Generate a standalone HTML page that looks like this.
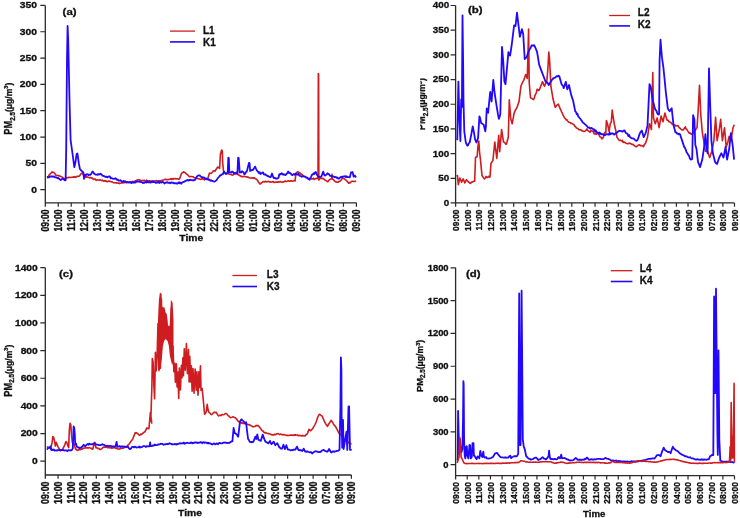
<!DOCTYPE html>
<html><head><meta charset="utf-8"><style>
html,body{margin:0;padding:0;background:#fff;width:740px;height:518px;overflow:hidden}
svg{display:block;filter:blur(0.35px)}
text{font-family:"Liberation Sans", sans-serif;font-weight:bold;fill:#111;stroke:#111;stroke-width:0.3px}
.t{font-size:8.8px}
.tt{font-size:9px}
.lab{font-size:9.5px}
.leg{font-size:10px}
.yt{font-size:8.6px}
</style></head><body>
<svg width="740" height="518" viewBox="0 0 740 518">
<defs><clipPath id="clipb" clipPathUnits="userSpaceOnUse"><rect x="420.2" y="0" width="20" height="250"/></clipPath></defs>
<rect width="740" height="518" fill="#fff"/>
<polyline points="46.9,177.6 47.5,177.6 48.27,177.17 49.03,175.13 49.8,174.2 50.57,173.55 51.33,172.71 52.1,171.9 52.87,172.52 53.63,172.21 54.4,173 55.3,174.23 56.2,175.7 56.93,175.52 57.65,175.48 58.38,175.6 59.1,175.9 59.87,176.05 60.63,176.41 61.4,176.8 62.17,176.99 62.93,177.86 63.7,178.2 64.55,178.64 65.4,179.4 66.3,177.54 67.2,177.6 67.97,177.91 68.73,177.38 69.5,177.23 70.27,177.48 71.03,177.42 71.8,177.3 72.57,177.23 73.33,176.88 74.1,177.11 74.87,176.51 75.63,177.32 76.4,176.8 77.12,176.25 77.85,176.39 78.58,176.28 79.3,176.1 80.2,174.92 81.1,173.6 82.2,173 83.4,174.8 84.25,175.88 85.1,177.1 85.84,177.32 86.59,176.15 87.33,177.24 88.07,177.3 88.81,177.29 89.56,177.95 90.3,177.6 91,177.63 91.7,178.26 92.4,178.03 93.1,179.08 93.8,179.4 94.57,178.97 95.33,179.09 96.1,180.37 96.87,179.97 97.63,179.86 98.4,180 99.2,180.17 100,179.84 100.8,180.11 101.6,180.72 102.4,180.1 103.2,180.99 104,181.1 104.71,180.58 105.42,181.2 106.14,180.87 106.85,181.79 107.56,181.62 108.28,181.2 108.99,180.84 109.7,181.5 110.52,181.44 111.33,181.88 112.15,181.81 112.97,182.41 113.78,182.84 114.6,182.8 115.31,182.79 116.02,182.73 116.74,183.15 117.45,182.87 118.16,183.27 118.88,182.96 119.59,183.6 120.3,183.2 121.1,183 121.9,182.68 122.7,182.95 123.5,182.65 124.3,182.8 125.12,182.39 125.93,182.56 126.75,182.74 127.57,181.77 128.38,182.33 129.2,182.3 130,182.1 130.8,181.98 131.6,182.16 132.4,181.4 133.2,181.88 134,181.6 134.82,181.13 135.64,180.88 136.46,180.42 137.28,180.02 138.1,179.8 138.9,179.74 139.7,180.16 140.5,180.2 141.25,180.85 141.99,180.58 142.74,180.56 143.48,180.52 144.23,180.25 144.97,180.62 145.72,181.12 146.46,180.14 147.21,180.83 147.95,180.93 148.7,180.7 149.41,180.76 150.11,180.92 150.82,181.11 151.52,181.37 152.23,181.1 152.94,181.22 153.64,180.82 154.35,180.98 155.06,180.79 155.76,180.83 156.47,180.61 157.18,180.96 157.88,181.2 158.59,180.72 159.29,180.85 160,180.8 160.82,180.77 161.64,180.39 162.46,180.47 163.28,180.06 164.1,179.8 164.9,179.34 165.7,179.3 166.5,179.75 167.3,179.63 168.1,179.69 168.9,179.35 169.7,179.2 170.4,179.19 171.1,178.6 171.8,179.44 172.5,178.68 173.2,179.22 173.9,178.5 174.6,178.8 175.3,178.62 176,178.89 176.7,178.75 177.4,178.69 178.1,179.2 178.8,179.17 179.5,179 181.5,173.5 182.5,172.71 183.5,171.7 184.33,172.19 185.17,172.64 186,173.5 186.8,174.07 187.6,174.78 188.4,175.66 189.2,176.4 190,176.72 190.8,176.54 191.6,176.45 192.4,176.8 193.22,176.91 194.05,177.78 194.88,177.74 195.7,178 196.5,178.27 197.3,178.48 198.1,178.77 198.9,178.84 199.7,179 200.52,179.39 201.34,179.32 202.16,178.26 202.98,179.12 203.8,179.2 204.6,179.93 205.4,178.49 206.2,178.76 207,178.88 207.8,178.4 209.5,173.1 210.3,173.3 211.1,173.5 212.1,172.7 213.1,171.1 214.1,170.77 215.1,171.2 215.97,169.42 216.83,168.34 217.7,167 218.65,167.53 219.6,168.5 220.4,154.3 221.6,150 222.3,150.8 222.7,163.1 223.5,170.9 224.25,171.73 225,173.2 225.78,173.53 226.56,173.6 227.34,173.68 228.12,173.72 228.9,174 229.66,174.3 230.42,174.4 231.18,174.44 231.94,175.03 232.7,175.1 233.48,174.67 234.26,174.04 235.04,173.69 235.82,172.61 236.6,172.4 237.35,173.51 238.1,174.7 238.88,174.86 239.66,175.74 240.44,175.81 241.22,176.62 242,176.3 242.78,176.85 243.56,176.35 244.34,176.21 245.12,176.77 245.9,176.7 246.66,176.84 247.42,177.09 248.18,177.04 248.94,177.76 249.7,177.8 250.48,177.94 251.26,178.08 252.04,178.13 252.82,177.85 253.6,178.2 254.38,177.83 255.15,178.72 255.92,178.91 256.7,179.4 257.52,180.39 258.35,181.99 259.18,182.82 260,184 260.77,183.85 261.55,182.85 262.33,182.41 263.1,181.6 263.87,181.75 264.63,181.84 265.4,181.22 266.17,181.93 266.93,181.63 267.7,181.6 268.47,181.35 269.24,181.86 270.01,181.82 270.78,182.15 271.55,182.02 272.32,181.95 273.09,181.39 273.86,182.42 274.63,182.41 275.4,182 276.1,182.21 276.8,182.1 277.5,182.31 278.2,181.67 278.9,182.12 279.6,181.9 280.3,181.57 281,181.96 281.7,181.94 282.4,182.33 283.1,181.8 283.88,182.01 284.65,181.17 285.43,180.99 286.2,181.48 286.98,181.36 287.75,181.07 288.53,180.84 289.3,181.2 290.03,181.1 290.75,180.78 291.48,180.88 292.2,181.31 292.93,181.08 293.65,180.75 294.38,180.6 295.1,180.9 295.9,173.1 296.85,172.29 297.8,171.6 298.57,172.62 299.33,172.45 300.1,173.1 300.88,174.22 301.65,174.06 302.43,174.84 303.2,175.5 303.98,176.28 304.75,176.42 305.52,177.24 306.3,177.8 307.12,177.69 307.95,178.6 308.78,179.05 309.6,179 310.38,178.8 311.15,179.06 311.93,178.88 312.7,179 313.48,178.19 314.26,179.5 315.04,178.71 315.82,178.61 316.6,178.2 318,178.5 318.35,73.5 318.6,74 318.85,180.1 319.68,179.07 320.5,177.8 321.27,177.99 322.03,178.78 322.8,178.2 323.55,178.4 324.3,179.7 325,180.01 325.7,180.37 326.4,180.84 327.1,181.51 327.8,181.7 328.75,180.48 329.7,179.7 330.7,178.95 331.7,179 332,174.3 332.4,179 333.4,179.61 334.4,180.9 335.17,181.44 335.93,181.99 336.7,182.1 337.48,182.14 338.25,182.18 339.02,181.34 339.8,181.3 340.57,180.7 341.33,179.71 342.1,178.6 342.87,178.55 343.63,178.37 344.4,178.6 345.15,179.61 345.9,180.1 346.8,180.93 347.7,182.08 348.6,183.2 349.3,182.53 350,182.96 350.7,182.04 351.4,181.53 352.1,181.3 352.88,181.31 353.66,181.39 354.44,181.57 355.22,181.11 356,181.7" fill="none" stroke="#cf1c20" stroke-width="1.6" stroke-linejoin="round"/>
<polyline points="46.9,176.8 47.5,176.8 48.23,177.38 48.95,177.45 49.67,176.83 50.4,176.46 51.12,176.31 51.85,176.81 52.57,176.34 53.3,176.8 54.15,176.35 55,177.29 55.85,177.46 56.7,177.6 57.5,178.25 58.3,177.99 59.1,178.8 59.95,179.4 60.8,180 61.65,179.37 62.5,178.8 63.4,178.72 64.3,180 65.6,180.3 66.2,150 67,60 67.6,26 68.2,40 69.5,100 70.6,140 72.7,155 74.3,167.2 75.5,162 76.6,154 77.4,153.5 78.8,163.2 79.9,169 80.67,170.01 81.43,170.68 82.2,171.3 83.4,172.4 84,178.8 84.5,174.8 85.3,175.68 86.1,174.49 86.9,174.2 87.75,174.28 88.6,175.05 89.45,174.74 90.3,174.8 91.1,174.11 91.9,172.44 92.7,171.5 93.47,172.5 94.23,173.76 95,174.2 95.77,174.71 96.53,174.66 97.3,174.8 98,174.11 98.7,174.6 99.4,174.23 100.1,174.32 100.8,173.8 101.6,174.56 102.4,175.62 103.2,175.8 104.02,176.1 104.84,176.53 105.66,177.06 106.48,176.59 107.3,177.4 108.3,176.72 109.3,176.4 110.03,176.67 110.75,178.29 111.47,177.86 112.2,178.4 113,178.81 113.8,178.92 114.6,178.63 115.4,178.18 116.2,179 117.03,179.86 117.85,179.67 118.67,180.6 119.5,180.7 120.3,180.26 121.1,180.8 121.9,181.72 122.7,181.94 123.5,180.86 124.3,181.6 125.12,181.14 125.94,181.86 126.76,182.35 127.58,182.23 128.4,182.3 129.2,182.51 130,182 130.8,182.78 131.6,183.09 132.4,182.46 133.2,182.08 134,182.8 134.82,182.16 135.65,182.54 136.48,181.12 137.3,181.6 138.12,181.68 138.93,181.39 139.75,181.89 140.57,181.96 141.38,182.19 142.2,182.3 142.92,182.98 143.64,182.49 144.37,182.9 145.09,182.24 145.81,182.08 146.53,182.47 147.26,181.02 147.98,182.28 148.7,182.3 149.41,182.38 150.11,181.76 150.82,182.53 151.52,182.07 152.23,181.22 152.94,182.24 153.64,181.9 154.35,182.12 155.06,182.29 155.76,182.93 156.47,182.42 157.18,182.36 157.88,182.56 158.59,181.57 159.29,182.95 160,182.4 160.74,181.95 161.47,182.67 162.21,182 162.95,182.11 163.68,182.4 164.42,183.47 165.15,182.97 165.89,182.42 166.63,182.6 167.36,182.25 168.1,182.8 168.84,182.82 169.57,182.61 170.31,183.23 171.05,182.33 171.78,182.83 172.52,182.64 173.25,182.73 173.99,183.41 174.73,183.18 175.46,183.43 176.2,183.2 176.91,183.69 177.62,183.62 178.34,182.43 179.05,183.24 179.76,182.16 180.47,182.87 181.19,183.71 181.9,182.8 182.72,182.29 183.54,181.79 184.36,181.62 185.18,181.13 186,180.7 186.8,180.49 187.6,179.91 188.4,180.51 189.2,179.8 189.91,180.23 190.62,179.75 191.34,180.02 192.05,180.2 192.76,180.39 193.47,180.13 194.19,180.29 194.9,180 195.83,178.48 196.77,176.72 197.7,175.8 198.7,175.33 199.7,175.3 200.53,176.39 201.37,177.01 202.2,177.2 203,177.51 203.8,177.42 204.6,178.06 205.4,178.91 206.2,178.4 207.02,179.47 207.84,179.01 208.66,179.76 209.48,179.59 210.3,180.7 211.1,180.27 211.9,180.95 212.7,180.96 213.5,181.47 214.3,181.69 215.1,181.2 215.93,180.64 216.77,179.93 217.6,178.4 218.9,177 219.65,176.08 220.4,175.14 221.15,175.2 221.9,174.3 222.9,174.16 223.9,171.6 224.85,172.96 225.8,174 226.75,173.08 227.7,173.2 228.3,157.7 228.8,158 229.3,172.4 230.2,172.24 231.1,172.51 232,171.6 232.77,171.67 233.53,173.03 234.3,173.2 235.08,172.92 235.85,173.77 236.62,173.55 237.4,173.2 238.1,157.7 238.7,158 239.7,172.4 240.47,172.17 241.23,172.57 242,171.3 242.78,171.79 243.55,172.34 244.32,174.16 245.1,174 245.87,172.04 246.63,171.86 247.4,169.3 249,162.8 249.6,163.2 250.1,170.9 251,170.62 251.9,169.9 252.8,170.1 253.57,168.93 254.33,167.83 255.1,166.6 256.1,168.84 257.1,170.9 257.95,171.59 258.8,172.94 259.65,172.18 260.5,174 261.37,173.22 262.23,172.82 263.1,172.4 263.85,174.37 264.6,174.7 265.38,174.18 266.15,175.3 266.93,175.31 267.7,176.2 268.48,176.1 269.25,176.89 270.02,176.98 270.8,177 272,173.5 273.2,177 273.93,178.15 274.67,177.73 275.4,178.5 276.17,178.45 276.95,178.68 277.73,178.38 278.5,177.8 279.3,174.3 280.07,173.95 280.85,174.41 281.62,173.28 282.4,173.5 283.17,174.71 283.95,174.37 284.73,174.65 285.5,175.1 286.4,174.02 287.3,173.08 288.2,171.5 289.04,173 289.88,172.88 290.72,173.49 291.56,174.64 292.4,175.1 293.18,174.47 293.96,173.86 294.74,174.76 295.52,173.97 296.3,173.9 297.06,174.79 297.82,174.2 298.58,173.74 299.34,175.55 300.1,175.8 300.92,176 301.73,176.79 302.55,176.44 303.37,176.47 304.18,176.73 305,176.6 305.77,176.95 306.53,177.67 307.3,177.54 308.07,178.9 308.83,178.82 309.6,179.7 310.4,177.83 311.2,176.68 312,174.7 312.76,174.57 313.52,173.17 314.28,173.98 315.04,172.27 315.8,172 316.6,174.13 317.4,175.5 318.17,176.43 318.93,176.6 319.7,177 320.6,176.68 321.5,176.2 323.2,171.6 324.3,175.1 325.08,175.67 325.86,175.02 326.64,174.58 327.42,173.32 328.2,173.9 328.98,174.16 329.75,175.62 330.52,175.79 331.3,176.3 332.07,175.99 332.83,176.24 333.6,176.51 334.37,177.08 335.13,177.06 335.9,177 336.67,177.85 337.45,177.43 338.23,178.64 339,178.6 339.77,177.74 340.53,177.2 341.3,176.7 342.07,177.42 342.84,176.62 343.61,176.47 344.39,176.38 345.16,176.24 345.93,177.06 346.7,176.3 347.48,177.19 348.25,177.17 349.02,177.21 349.8,177.4 351,172.4 351.75,172.67 352.5,172 353.7,176.7 354.8,175.5 356,177.4" fill="none" stroke="#2208ff" stroke-width="1.8" stroke-linejoin="round"/>
<path d="M45.3 5.43V206.63M45.3 202.83H356.4" stroke="#2a2a2a" stroke-width="1.3" fill="none"/>
<path d="M40.3 189.67H45.3M40.3 163.35H45.3M40.3 137.03H45.3M40.3 110.71H45.3M40.3 84.39H45.3M40.3 58.07H45.3M40.3 31.75H45.3M40.3 5.43H45.3M58.26 202.83v3.8M71.22 202.83v3.8M84.19 202.83v3.8M97.15 202.83v3.8M110.11 202.83v3.8M123.07 202.83v3.8M136.04 202.83v3.8M149 202.83v3.8M161.96 202.83v3.8M174.92 202.83v3.8M187.89 202.83v3.8M200.85 202.83v3.8M213.81 202.83v3.8M226.77 202.83v3.8M239.74 202.83v3.8M252.7 202.83v3.8M265.66 202.83v3.8M278.62 202.83v3.8M291.59 202.83v3.8M304.55 202.83v3.8M317.51 202.83v3.8M330.47 202.83v3.8M343.44 202.83v3.8M356.4 202.83v3.8" stroke="#2a2a2a" stroke-width="1.2" fill="none"/>
<text transform="translate(37,192.57) scale(1.17,1)" text-anchor="end" class="t">0</text>
<text transform="translate(37,166.25) scale(1.17,1)" text-anchor="end" class="t">50</text>
<text transform="translate(37,139.93) scale(1.17,1)" text-anchor="end" class="t">100</text>
<text transform="translate(37,113.61) scale(1.17,1)" text-anchor="end" class="t">150</text>
<text transform="translate(37,87.29) scale(1.17,1)" text-anchor="end" class="t">200</text>
<text transform="translate(37,60.97) scale(1.17,1)" text-anchor="end" class="t">250</text>
<text transform="translate(37,34.65) scale(1.17,1)" text-anchor="end" class="t">300</text>
<text transform="translate(37,8.33) scale(1.17,1)" text-anchor="end" class="t">350</text>
<text transform="translate(49.14,209.5) scale(1.240,1) rotate(-90)" text-anchor="end" class="t" style="font-size:8.6px">09:00</text>
<text transform="translate(62.1,209.5) scale(1.240,1) rotate(-90)" text-anchor="end" class="t" style="font-size:8.6px">10:00</text>
<text transform="translate(75.06,209.5) scale(1.240,1) rotate(-90)" text-anchor="end" class="t" style="font-size:8.6px">11:00</text>
<text transform="translate(88.03,209.5) scale(1.240,1) rotate(-90)" text-anchor="end" class="t" style="font-size:8.6px">12:00</text>
<text transform="translate(100.99,209.5) scale(1.240,1) rotate(-90)" text-anchor="end" class="t" style="font-size:8.6px">13:00</text>
<text transform="translate(113.95,209.5) scale(1.240,1) rotate(-90)" text-anchor="end" class="t" style="font-size:8.6px">14:00</text>
<text transform="translate(126.91,209.5) scale(1.240,1) rotate(-90)" text-anchor="end" class="t" style="font-size:8.6px">15:00</text>
<text transform="translate(139.88,209.5) scale(1.240,1) rotate(-90)" text-anchor="end" class="t" style="font-size:8.6px">16:00</text>
<text transform="translate(152.84,209.5) scale(1.240,1) rotate(-90)" text-anchor="end" class="t" style="font-size:8.6px">17:00</text>
<text transform="translate(165.8,209.5) scale(1.240,1) rotate(-90)" text-anchor="end" class="t" style="font-size:8.6px">18:00</text>
<text transform="translate(178.76,209.5) scale(1.240,1) rotate(-90)" text-anchor="end" class="t" style="font-size:8.6px">19:00</text>
<text transform="translate(191.73,209.5) scale(1.240,1) rotate(-90)" text-anchor="end" class="t" style="font-size:8.6px">20:00</text>
<text transform="translate(204.69,209.5) scale(1.240,1) rotate(-90)" text-anchor="end" class="t" style="font-size:8.6px">21:00</text>
<text transform="translate(217.65,209.5) scale(1.240,1) rotate(-90)" text-anchor="end" class="t" style="font-size:8.6px">22:00</text>
<text transform="translate(230.61,209.5) scale(1.240,1) rotate(-90)" text-anchor="end" class="t" style="font-size:8.6px">23:00</text>
<text transform="translate(243.58,209.5) scale(1.240,1) rotate(-90)" text-anchor="end" class="t" style="font-size:8.6px">00:00</text>
<text transform="translate(256.54,209.5) scale(1.240,1) rotate(-90)" text-anchor="end" class="t" style="font-size:8.6px">01:00</text>
<text transform="translate(269.5,209.5) scale(1.240,1) rotate(-90)" text-anchor="end" class="t" style="font-size:8.6px">02:00</text>
<text transform="translate(282.46,209.5) scale(1.240,1) rotate(-90)" text-anchor="end" class="t" style="font-size:8.6px">03:00</text>
<text transform="translate(295.43,209.5) scale(1.240,1) rotate(-90)" text-anchor="end" class="t" style="font-size:8.6px">04:00</text>
<text transform="translate(308.39,209.5) scale(1.240,1) rotate(-90)" text-anchor="end" class="t" style="font-size:8.6px">05:00</text>
<text transform="translate(321.35,209.5) scale(1.240,1) rotate(-90)" text-anchor="end" class="t" style="font-size:8.6px">06:00</text>
<text transform="translate(334.31,209.5) scale(1.240,1) rotate(-90)" text-anchor="end" class="t" style="font-size:8.6px">07:00</text>
<text transform="translate(347.28,209.5) scale(1.240,1) rotate(-90)" text-anchor="end" class="t" style="font-size:8.6px">08:00</text>
<text transform="translate(360.24,209.5) scale(1.240,1) rotate(-90)" text-anchor="end" class="t" style="font-size:8.6px">09:00</text>
<text transform="translate(191.3,241) scale(1.15,1)" text-anchor="middle" class="tt">Time</text>
<text transform="translate(62.6,14.6) scale(1.2,1)" class="lab">(a)</text>
<path d="M170 31.1H195" stroke="#cf1c20" stroke-width="1.3"/>
<path d="M170 41.9H195" stroke="#2208ff" stroke-width="1.6"/>
<text x="203" y="33.5" class="leg">L1</text>
<text x="203" y="45.7" class="leg">K1</text>
<g><text transform="translate(11.9,108.7) scale(1.12,1) rotate(-90)" text-anchor="middle" class="yt"><tspan font-size="9.3">PM</tspan><tspan font-size="6.3" dy="2.4">2.5</tspan><tspan dy="-2.4">(μg/m</tspan><tspan font-size="5.6" dy="-3.4">3</tspan><tspan dy="3.4">)</tspan></text></g>
<polyline points="456.5,176 457.5,175.6 458.3,184.6 459.9,178 460.75,180.07 461.6,182.1 462.4,180.71 463.2,178.9 464.8,183 465.65,181.14 466.5,179.7 467.32,180.68 468.15,181.77 468.98,182.36 469.8,183 470.62,183.42 471.43,182.04 472.25,182.18 473.07,181.55 473.88,181.23 474.7,181.3 475.5,157.5 476.3,157.02 477.1,156.7 478,146.1 478.8,141.1 479.6,152.6 480.4,159.2 482,175.6 482.83,176.8 483.67,177.99 484.5,178.9 485.3,177.88 486.1,176.4 486.93,177.61 487.75,177.19 488.57,176.28 489.4,177.2 490,176.9 491,163.4 491.95,162.04 492.9,160.5 494.8,142.1 496.8,158.5 498.7,135.4 499.7,151.8 501.6,129.6 503.5,142.1 504.23,142.32 504.95,142.87 505.67,144.19 506.4,144.1 508.3,137.3 509.3,99.7 510.8,119 512.2,123.8 514.1,113.2 514.83,111.65 515.55,109.42 516.27,108.99 517,107.4 519,101.6 520.9,86.1 521.62,84.52 522.35,82.67 523.07,81.34 523.8,80.3 525.7,74.5 526.5,76.17 527.3,78.4 528.6,29.1 529.2,82.2 530.5,97.7 531.23,98.16 531.95,98.46 532.67,99.16 533.4,99.6 534.12,98.73 534.85,95.84 535.57,94.14 536.3,92.8 537.1,89.3 537.8,89.52 538.5,90.46 539.2,90.3 542.4,81.8 543.13,82.92 543.87,85.31 544.6,86.1 545.3,84.08 546,82.77 546.7,81.8 547.7,71.2 548.8,52.1 549.6,60 550.9,86.1 553,98.8 555.2,107.3 556,106.48 556.8,105.31 557.6,104.62 558.4,104.1 559.17,106.18 559.95,108.18 560.73,109.78 561.5,111.6 562.3,113.08 563.1,115.4 563.9,116.58 564.7,118 565.42,118.59 566.13,119.95 566.85,119.69 567.57,120.87 568.28,121.8 569,122.2 569.7,122.54 570.4,122.64 571.1,123.41 571.8,123.36 572.5,123.68 573.2,124.3 573.92,124.56 574.63,126.32 575.35,126.2 576.07,127.69 576.78,128.05 577.5,128.6 578.2,128.83 578.9,129.6 579.6,129.77 580.3,130.06 581,129.73 581.7,130.7 582.53,130.86 583.35,131.35 584.17,131.29 585,131.2 585.95,130.45 586.9,128.8 587.7,130.44 588.5,130.92 589.3,131.7 590.13,132.29 590.97,130.42 591.8,130.8 592.52,131.52 593.25,131.31 593.98,133.64 594.7,134.1 595.63,133.84 596.57,134.26 597.5,133.2 598.23,133.99 598.95,134.19 599.67,136.63 600.4,137 601.15,137.4 601.9,139 603.3,137.5 604.3,133.2 605.05,132.38 605.8,132.7 606.4,120.6 607.7,124.5 609.1,131.7 610.3,123.5 611.3,122.1 612.2,110 613,115.8 614.4,124.5 615.9,131.2 616.9,137 617.85,138.37 618.8,139.9 619.52,140.43 620.25,140.17 620.98,140.73 621.7,140.9 622.43,140.4 623.15,142.38 623.88,141.92 624.6,142.3 625.33,142.73 626.05,143.31 626.77,143.5 627.5,143.8 628.23,143.76 628.95,143.13 629.67,143.37 630.4,143.3 631.12,143.85 631.85,144.47 632.57,144.3 633.3,144.7 634.02,145.24 634.75,145.85 635.48,146.46 636.2,146.7 637.1,146.19 638,145.39 638.9,144.9 639.66,144.87 640.42,145.81 641.18,145.63 641.94,145.71 642.7,145.9 643.43,146.74 644.15,144.85 644.88,144.11 645.6,143 647.5,137.2 649.5,123.7 651.4,129.5 652.8,72.5 653.5,117.9 655.3,123.7 657.2,117.9 659.1,127.6 661.1,116 663,121.8 664.9,113.1 666.9,119.8 667.6,120.37 668.3,120.34 669,121.81 669.7,121.8 670.48,122.34 671.26,122.98 672.04,124 672.82,124.58 673.6,124.7 674.38,124.99 675.16,125.07 675.94,126.18 676.72,125.68 677.5,125.6 678.26,125.92 679.02,127.5 679.78,128.01 680.54,128.73 681.3,129.5 682.25,130.06 683.2,130 684.25,128.51 685.3,126.8 686.1,129.03 686.9,129.54 687.7,130.89 688.5,132.1 689.3,133.15 690.1,132.9 690.9,134.13 691.7,134.2 692.48,133.37 693.25,133.13 694.02,131.42 694.8,131 695.53,130.12 696.27,128.15 697,127.8 698,113 699.5,85.4 700.8,115.1 702.3,132.1 703.7,140.6 705.4,151.2 706.1,151 706.8,151.21 707.5,151.2 709.7,157.5 711.8,151.2 713.9,140.6 715.6,117.2 717.1,140.6 719.2,130 720.7,119.4 722.4,140.6 724.5,127.8 726.2,146.9 727.7,142.7 729.2,136.3 730.9,140.6 733,127.8 734.3,124.7" fill="none" stroke="#cf1c20" stroke-width="1.6" stroke-linejoin="round"/>
<polyline points="456.5,139 457.3,139.4 458.4,81.6 459.3,116.3 460.4,141 461.2,99.3 461.9,107 462.5,15.3 463.1,60 463.5,100.9 464.3,131.7 465.8,142.5 466.55,144.09 467.3,145.6 468.1,145.13 468.9,143.11 469.7,142.5 471.2,134.8 472.7,126.3 473.8,131.7 475.1,139.4 475.85,141.4 476.6,142.5 478.1,137.9 479.4,116.3 479.9,117.4 481.2,123.1 482.03,123.55 482.87,124.12 483.7,124.8 485.3,131.3 485.9,126.7 486.7,108.5 488.1,112.8 490.2,92 491.6,101.5 493.3,79.9 494.5,92 496.3,104.1 498,114.5 498.9,118.9 500.3,114.5 502,46.9 503.2,60.8 504.4,81.6 505.5,84.2 506.7,71.2 508.4,52.1 509.25,54.7 510.1,55.6 511.9,43.5 514.1,25.3 515.5,26 517,12.7 518.6,26.2 519.9,36.9 521.9,29.1 523.2,34 524.7,59 525.7,58.12 526.7,57.1 528.6,51.3 529.33,49.83 530.05,48.73 530.77,47.46 531.5,45.5 532.23,45.49 532.95,45.76 533.67,45.06 534.4,45.5 535.3,47.53 536.2,49.7 537.1,52.1 539.2,64.9 542.4,73.4 545.6,81.8 546.4,82 547.2,82.72 548,83.47 548.8,85 549.6,83.57 550.4,82.27 551.2,80.88 552,79.7 552.7,79.2 553.4,78.03 554.1,78.06 554.8,77.67 555.5,77.37 556.2,76.5 557,76.12 557.8,76.32 558.6,75.59 559.4,76.5 561.5,84 562.23,85.17 562.97,85.81 563.7,88.2 565.8,81.8 567.3,89.3 569,85 571.1,94.6 573.2,101 575.3,111.6 576.02,112.03 576.73,114.23 577.45,113.81 578.17,116.23 578.88,117.08 579.6,118 580.44,118.9 581.28,120.29 582.12,121.36 582.96,122.63 583.8,123.2 584.62,123.94 585.44,124.61 586.26,125.45 587.08,126.12 587.9,127.4 588.62,127.6 589.35,127.5 590.07,128.56 590.8,128.3 591.52,127.83 592.25,128.56 592.98,129 593.7,129.8 594.43,129.46 595.15,131.86 595.88,130.52 596.6,132.2 597.36,132.35 598.12,132.52 598.88,133.79 599.64,132.43 600.4,133.6 601.18,134.38 601.96,133.87 602.74,134.43 603.52,134.5 604.3,135.1 605.08,135.19 605.86,134.19 606.64,134.46 607.42,134.46 608.2,134.1 608.96,134.75 609.72,132.66 610.48,134.25 611.24,133.81 612,133.2 613,133.68 614,134.6 614.76,134.16 615.52,133.23 616.28,133.6 617.04,132.37 617.8,131.7 618.75,131.15 619.7,130.8 620.43,130.92 621.15,131.16 621.88,131.4 622.6,131.7 623.6,130.6 624.6,130.3 625.55,132.68 626.5,133.2 627.45,133.79 628.4,136.1 629.12,134.95 629.85,136.99 630.57,137.46 631.3,138 632.02,138.42 632.75,138.41 633.48,138.68 634.2,139 635.2,140.1 636.2,140.9 637.05,140.49 637.9,139.2 639.8,133.4 640.8,131.75 641.8,130.5 643.7,137.2 644.65,135.13 645.6,133.4 647.5,125.6 649.5,84.1 650.8,87 652.4,98.6 654.3,106.3 655.02,108.87 655.75,109.94 656.48,110.96 657.2,113.1 658.15,114.65 659.1,114.1 659.6,60 660.5,39.7 661.9,57 663.4,67.7 664.3,76.4 665.9,92.8 667.8,108.3 668.75,110.1 669.7,111.2 670.7,109.48 671.7,108.3 673.6,125.6 675.5,132.4 676.23,132.35 676.95,133.48 677.67,133.45 678.4,134.3 679.2,133.77 680,134.2 682.1,140.6 684.2,146.9 685,147.92 685.8,149.87 686.6,152.2 687.4,153.3 688.2,154.68 689,155.8 689.8,158.33 690.6,159.6 691.4,159.33 692.2,159 693.1,115.1 694.4,119.4 695.3,144.8 696.5,149 698,161.8 700.1,167.1 702.3,159.6 704.4,144.8 705.4,134.2 706.5,146.9 707.6,153.3 709,68.5 710.1,102.4 711.4,140.6 712.9,153.3 715,161.8 715.7,162.88 716.4,163.74 717.1,163.9 719.2,157.5 720.25,155.32 721.3,153.3 722.03,154.63 722.77,156.08 723.5,157.5 725.6,146.9 727.1,159.6 729.2,149 730.9,133.1 732.6,144.8 734.1,159.6" fill="none" stroke="#2208ff" stroke-width="1.8" stroke-linejoin="round"/>
<path d="M455.6 5.52V206.76M455.6 202.96H734.5" stroke="#2a2a2a" stroke-width="1.3" fill="none"/>
<path d="M450.6 202.96H455.6M450.6 178.28H455.6M450.6 153.6H455.6M450.6 128.92H455.6M450.6 104.24H455.6M450.6 79.56H455.6M450.6 54.88H455.6M450.6 30.2H455.6M450.6 5.52H455.6M467.22 202.96v3.8M478.84 202.96v3.8M490.46 202.96v3.8M502.08 202.96v3.8M513.7 202.96v3.8M525.33 202.96v3.8M536.95 202.96v3.8M548.57 202.96v3.8M560.19 202.96v3.8M571.81 202.96v3.8M583.43 202.96v3.8M595.05 202.96v3.8M606.67 202.96v3.8M618.29 202.96v3.8M629.91 202.96v3.8M641.53 202.96v3.8M653.15 202.96v3.8M664.77 202.96v3.8M676.4 202.96v3.8M688.02 202.96v3.8M699.64 202.96v3.8M711.26 202.96v3.8M722.88 202.96v3.8M734.5 202.96v3.8" stroke="#2a2a2a" stroke-width="1.2" fill="none"/>
<text transform="translate(449.2,205.86) scale(1.12,1)" text-anchor="end" class="t">0</text>
<text transform="translate(449.2,181.18) scale(1.12,1)" text-anchor="end" class="t">50</text>
<text transform="translate(449.2,156.5) scale(1.12,1)" text-anchor="end" class="t">100</text>
<text transform="translate(449.2,131.82) scale(1.12,1)" text-anchor="end" class="t">150</text>
<text transform="translate(449.2,107.14) scale(1.12,1)" text-anchor="end" class="t">200</text>
<text transform="translate(449.2,82.46) scale(1.12,1)" text-anchor="end" class="t">250</text>
<text transform="translate(449.2,57.78) scale(1.12,1)" text-anchor="end" class="t">300</text>
<text transform="translate(449.2,33.1) scale(1.12,1)" text-anchor="end" class="t">350</text>
<text transform="translate(449.2,8.42) scale(1.12,1)" text-anchor="end" class="t">400</text>
<text transform="translate(459.19,209.5) scale(1.187,1) rotate(-90)" text-anchor="end" class="t" style="font-size:8.4px">09:00</text>
<text transform="translate(470.81,209.5) scale(1.187,1) rotate(-90)" text-anchor="end" class="t" style="font-size:8.4px">10:00</text>
<text transform="translate(482.43,209.5) scale(1.187,1) rotate(-90)" text-anchor="end" class="t" style="font-size:8.4px">11:00</text>
<text transform="translate(494.05,209.5) scale(1.187,1) rotate(-90)" text-anchor="end" class="t" style="font-size:8.4px">12:00</text>
<text transform="translate(505.67,209.5) scale(1.187,1) rotate(-90)" text-anchor="end" class="t" style="font-size:8.4px">13:00</text>
<text transform="translate(517.29,209.5) scale(1.187,1) rotate(-90)" text-anchor="end" class="t" style="font-size:8.4px">14:00</text>
<text transform="translate(528.92,209.5) scale(1.187,1) rotate(-90)" text-anchor="end" class="t" style="font-size:8.4px">15:00</text>
<text transform="translate(540.54,209.5) scale(1.187,1) rotate(-90)" text-anchor="end" class="t" style="font-size:8.4px">16:00</text>
<text transform="translate(552.16,209.5) scale(1.187,1) rotate(-90)" text-anchor="end" class="t" style="font-size:8.4px">17:00</text>
<text transform="translate(563.78,209.5) scale(1.187,1) rotate(-90)" text-anchor="end" class="t" style="font-size:8.4px">18:00</text>
<text transform="translate(575.4,209.5) scale(1.187,1) rotate(-90)" text-anchor="end" class="t" style="font-size:8.4px">19:00</text>
<text transform="translate(587.02,209.5) scale(1.187,1) rotate(-90)" text-anchor="end" class="t" style="font-size:8.4px">20:00</text>
<text transform="translate(598.64,209.5) scale(1.187,1) rotate(-90)" text-anchor="end" class="t" style="font-size:8.4px">21:00</text>
<text transform="translate(610.26,209.5) scale(1.187,1) rotate(-90)" text-anchor="end" class="t" style="font-size:8.4px">22:00</text>
<text transform="translate(621.88,209.5) scale(1.187,1) rotate(-90)" text-anchor="end" class="t" style="font-size:8.4px">23:00</text>
<text transform="translate(633.5,209.5) scale(1.187,1) rotate(-90)" text-anchor="end" class="t" style="font-size:8.4px">00:00</text>
<text transform="translate(645.12,209.5) scale(1.187,1) rotate(-90)" text-anchor="end" class="t" style="font-size:8.4px">01:00</text>
<text transform="translate(656.74,209.5) scale(1.187,1) rotate(-90)" text-anchor="end" class="t" style="font-size:8.4px">02:00</text>
<text transform="translate(668.37,209.5) scale(1.187,1) rotate(-90)" text-anchor="end" class="t" style="font-size:8.4px">03:00</text>
<text transform="translate(679.99,209.5) scale(1.187,1) rotate(-90)" text-anchor="end" class="t" style="font-size:8.4px">04:00</text>
<text transform="translate(691.61,209.5) scale(1.187,1) rotate(-90)" text-anchor="end" class="t" style="font-size:8.4px">05:00</text>
<text transform="translate(703.23,209.5) scale(1.187,1) rotate(-90)" text-anchor="end" class="t" style="font-size:8.4px">06:00</text>
<text transform="translate(714.85,209.5) scale(1.187,1) rotate(-90)" text-anchor="end" class="t" style="font-size:8.4px">07:00</text>
<text transform="translate(726.47,209.5) scale(1.187,1) rotate(-90)" text-anchor="end" class="t" style="font-size:8.4px">08:00</text>
<text transform="translate(738.09,209.5) scale(1.187,1) rotate(-90)" text-anchor="end" class="t" style="font-size:8.4px">09:00</text>
<text transform="translate(468,12.6) scale(1.2,1)" class="lab">(b)</text>
<path d="M609.2 15.5H630" stroke="#cf1c20" stroke-width="1.3"/>
<path d="M609.2 25.9H630" stroke="#2208ff" stroke-width="1.6"/>
<text x="637.8" y="16.0" class="leg">L2</text>
<text x="637.8" y="28.1" class="leg">K2</text>
<g clip-path="url(#clipb)"><text transform="translate(425.4,104.2) scale(1.12,1) rotate(-90)" text-anchor="middle" class="yt"><tspan font-size="9.3">PM</tspan><tspan font-size="6.3" dy="2.4">2.5</tspan><tspan dy="-2.4">(μg/m</tspan><tspan font-size="5.6" dy="-3.4">3</tspan><tspan dy="3.4">)</tspan></text></g>
<polygon points="158,320 158.9,300 159.9,292.5 161.6,293.7 162.2,307 164.5,307.6 165.7,312.8 166.8,314 168,325.6 168.6,326.7 169.7,325.6 170.9,300 172.6,302.4 173.5,320 173.5,362 172.1,365 169.9,356 168.9,346 167.6,341 165.6,339 164.1,341 162.9,346 161.9,358 160.6,368 159.1,372 158,370" fill="#cf1c20" stroke="none"/>
<polyline points="46.8,446.8 47.2,446.8 48.05,447.52 48.9,448 49.7,447.95 50.5,448.8 52.1,442.7 52.8,436.6 53.7,437.4 54.5,441.1 55.4,446 56.2,442.3 57,444.3 57.8,446.4 58.6,448 59.4,449.21 60.2,450.8 61.03,450.28 61.87,450.1 62.7,449.2 63.7,447.15 64.7,445.1 65.9,441.5 66.7,442.3 67.9,446 68.7,447.6 69.3,430.5 70,423.2 70.8,424.9 71.6,436.2 72.4,442.7 73.2,443.5 74.4,445.1 75.6,449.2 76.45,449.39 77.3,450.4 78.1,450.21 78.9,449.57 79.7,449.6 80.5,449.61 81.3,448.94 82.1,449.15 82.9,448.4 83.73,448.27 84.55,447.94 85.38,447.73 86.2,448 87,447.81 87.8,447.91 88.6,448 89.4,447.6 90.23,448.07 91.05,448.22 91.88,448.93 92.7,449.2 94.7,442.3 95.9,447.6 96.7,447.54 97.5,448.33 98.3,448.31 99.1,448.8 100,449.5 100.78,449.39 101.56,448.79 102.34,448.15 103.12,447.32 103.9,447.1 104.61,447.3 105.33,447.32 106.04,447.15 106.75,447.19 107.46,447.73 108.17,447.37 108.89,447.65 109.6,447.6 110.32,448.01 111.05,447.35 111.78,448.23 112.5,448.1 113.22,447.75 113.95,447.74 114.68,447.73 115.4,448.1 116.18,448.53 116.96,447.86 117.74,448.93 118.52,448.94 119.3,449.1 120.06,448.73 120.82,448.57 121.58,448.41 122.34,448.24 123.1,448.1 123.88,447.94 124.66,447.13 125.44,447.23 126.22,446.83 127,446.2 127.95,445.14 128.9,444.2 129.68,443.29 130.46,441.94 131.24,441.03 132.02,440.08 132.8,438.9 135.2,432.7 135.9,433.18 136.6,432.7 137.32,433.34 138.05,433.96 138.78,434.66 139.5,435.3 140.22,434.83 140.95,434.18 141.68,434.49 142.4,433.6 143.27,432.81 144.13,432.19 145,431.7 145.95,429.57 146.9,427.8 147.9,428.47 148.9,428.8 150.4,412.4 151.8,423 150.2,415 150.8,421 151.9,386 152.3,358.5 153.1,362 153.9,386 154.6,398.7 155.4,352.4 156.2,370.9 157,360 158,323.6 158.86,363.7 159.76,307.9 160.36,368.3 161.39,298.9 162.08,340.5 162.9,316.9 163.73,335.8 164.37,313.9 165.42,334.9 166.4,318.8 166.99,334.8 167.88,326.1 168.46,339.7 169.28,331.2 170.34,348 171.41,308 172.42,356 173,346.4 173.86,371.6 174.76,363.2 175.36,382.3 176.39,363.8 177.08,386.9 177.9,372.1 178.73,398.4 179.37,368 180.42,389.9 181.4,365.3 181.99,377.7 182.88,357.9 183.46,375.7 184.28,348.8 185.34,370.2 186.41,343.6 187.42,373.6 188.5,349.5 189.12,382 189.8,356.2 190.61,382 191.33,365.7 192.11,391.2 193,368.5 194.06,393.3 195.14,369.1 196.26,390.2 196.91,371.7 198.01,395.1 198.89,371.9 199.57,387.4 200.45,365.7 201.04,390.4 202.16,388.5 204.6,414.1 205.5,413.39 206.4,411.2 207.2,404.3 208.1,410.1 208.95,412.31 209.8,413 210.7,414.1 211.6,414.7 212.37,414.02 213.13,413.16 213.9,412.4 214.67,412.15 215.43,412.59 216.2,412.4 217.1,413.83 218,415.3 218.72,415.9 219.45,415.38 220.18,415.27 220.9,415.6 221.67,414.84 222.43,414.55 223.2,414.7 223.92,414.55 224.65,414.19 225.38,413.51 226.1,413.5 226.87,413.88 227.63,415.1 228.4,415.8 229.17,416.31 229.93,417.06 230.7,417.6 231.42,417.45 232.15,417.1 232.88,416.71 233.6,417 234.37,417.43 235.13,417.82 235.9,418.2 236.67,419.21 237.43,420.37 238.2,421.1 238.97,421.9 239.73,422.11 240.5,422.8 241.2,423.07 241.9,422.49 242.6,423.33 243.3,423.27 244,423.4 244.78,423.84 245.57,424.02 246.35,423.71 247.13,424.1 247.92,424.6 248.7,424.5 249.47,424.76 250.23,425.32 251,425.55 251.77,426.25 252.53,426.57 253.3,426.9 254.15,426.44 255,426.4 255.72,425.79 256.45,425.34 257.17,425.87 257.9,425.4 258.85,426.29 259.8,427.4 260.8,428.67 261.8,430.3 262.5,430.77 263.2,431.27 263.9,432.27 264.6,432.7 265.38,433.04 266.16,432.49 266.94,433.23 267.72,433.45 268.5,433.6 269.3,433.74 270.1,434.06 270.9,434.67 271.7,434.55 272.5,434.99 273.3,434.9 274.1,434.94 274.9,434.08 275.7,434.7 276.5,434.09 277.3,433.75 278.1,433.6 278.92,434.03 279.73,434.6 280.55,434.05 281.37,434.3 282.18,434.78 283,434.9 283.8,434.52 284.6,434.75 285.4,435.11 286.2,435.36 287,435.37 287.8,435.3 288.53,435.49 289.25,435.53 289.98,435.12 290.7,435.11 291.43,435.1 292.15,435.07 292.88,435.41 293.6,435.1 294.33,435.35 295.05,434.63 295.77,435.3 296.5,434.93 297.23,434.94 297.95,435.58 298.67,435.61 299.4,435.3 300.11,435.69 300.82,435.65 301.54,436.03 302.25,435.36 302.96,435.95 303.68,435.65 304.39,435.76 305.1,436 305.93,434.62 306.77,434.46 307.6,433.1 309,429.3 310.4,430.7 311.23,430.35 312.07,429.33 312.9,428.3 313.6,426.89 314.3,425.82 315,424.5 316.1,422.1 317.8,416.9 318.65,415.33 319.5,414.3 320.4,414.8 321.3,415.82 322.2,416 323.07,418.45 323.93,420.24 324.8,422.1 325.67,423.74 326.53,424.94 327.4,426.4 328.27,425.06 329.13,423.49 330,422.1 331.2,420.3 331.93,421.59 332.67,422.48 333.4,423.8 334.27,425.23 335.13,426.08 336,427.3 336.87,429.09 337.73,430.74 338.6,432.5 339.3,433.6 340,434.14 340.7,434.4 341.4,435.06 342.1,436 342.97,437.58 343.83,438.9 344.7,440.3 345.4,440.58 346.1,441.04 346.8,441.75 347.5,441.64 348.2,442 349.07,442.97 349.93,443.08 350.8,443.8 351.6,444" fill="none" stroke="#cf1c20" stroke-width="1.6" stroke-linejoin="round"/>
<polyline points="46.8,449.2 47.2,449.2 48.03,448.15 48.85,447.46 49.67,447.3 50.5,446.4 51.3,450 52.12,449.39 52.94,450.12 53.76,449.56 54.58,450.65 55.4,450.4 56.2,450.39 57,450.67 57.8,450.05 58.6,450.25 59.4,449.98 60.2,450 61.02,449.85 61.83,450.18 62.65,449.82 63.47,450.16 64.28,450.54 65.1,450.4 65.82,450.42 66.54,450.28 67.27,451.06 67.99,450.42 68.71,450.22 69.43,450.45 70.16,450.24 70.88,450.28 71.6,450.4 72.8,448.4 73.6,426.5 74.2,427.5 74.8,433.8 75.2,444.3 76,443.5 76.8,446.8 78.1,447.6 78.9,447.49 79.7,448.21 80.5,447.61 81.3,447.6 82.1,446.69 82.9,445.87 83.7,444.7 84.55,445.96 85.4,446 86.2,445.23 87,444.41 87.8,443.9 88.6,444.74 89.4,443.66 90.2,444.09 91,444.3 91.83,444.23 92.67,444.45 93.5,443.5 94.3,443.48 95.1,443.31 95.9,444.3 96.7,444.7 97.5,444.54 98.3,444.78 99.1,445.1 100,445.2 100.8,445.01 101.6,444.6 102.4,444.2 103.25,444.66 104.1,444.82 104.95,445.71 105.8,445.7 106.52,446.21 107.25,445.83 107.97,445.75 108.7,446.17 109.42,446.16 110.15,445.76 110.88,446 111.6,446.2 112.36,446.59 113.12,446.33 113.88,446.34 114.64,446.58 115.4,446.6 116.6,441.8 117.4,446.6 118.14,446.58 118.89,446.58 119.63,445.99 120.38,447.08 121.12,446.6 121.87,446.27 122.61,446.82 123.36,446.6 124.1,446.5 124.88,446.53 125.66,446.85 126.44,447.24 127.22,446.75 128,446.6 128.95,448.33 129.9,449.1 130.85,448.75 131.8,447.1 132.56,446.79 133.31,446.94 134.07,447.33 134.82,446.59 135.58,447.02 136.33,447.49 137.09,447.41 137.84,447.27 138.6,447.1 139.34,446.46 140.09,447.67 140.83,447.07 141.58,447.06 142.32,446.92 143.07,446.19 143.81,446.2 144.56,446.2 145.3,446.5 146.03,447.03 146.77,446.15 147.5,446.28 148.23,446.22 148.97,446.42 149.7,446.2 150.1,442.3 150.6,446.2 151.45,446.18 152.3,445.93 153.15,445.3 154,445.5 154.75,444.4 155.5,445.22 156.25,445.09 157,445.22 157.75,444.66 158.5,444.34 159.25,444.49 160,444.2 160.73,443.72 161.45,443.85 162.18,443.84 162.91,444.21 163.64,444.74 164.36,444.32 165.09,444.42 165.82,444.13 166.55,444.12 167.27,443.88 168,444 168.73,443.92 169.45,443.27 170.18,443.64 170.91,443.61 171.64,444.25 172.36,444.2 173.09,444.34 173.82,444.47 174.55,443.91 175.27,444.32 176,444 176.71,444.52 177.43,443.85 178.14,444.11 178.86,443.66 179.57,443.16 180.29,443.61 181,443.25 181.71,443.46 182.43,443.22 183.14,443.38 183.86,442.57 184.57,443.77 185.29,443.48 186,443 186.7,442.89 187.4,442.73 188.1,443 188.8,443.2 189.5,443.13 190.2,443.12 190.9,442.41 191.6,442.66 192.3,443.4 193,443 193.7,443.02 194.4,442.44 195.1,442.59 195.8,442.37 196.5,442.44 197.2,443.05 197.9,442.58 198.6,442.94 199.3,442.61 200,442.5 200.72,442.04 201.45,442.3 202.18,443.2 202.9,442.27 203.62,442.18 204.35,442.88 205.08,442.53 205.8,442.5 206.53,442.71 207.25,443.37 207.97,442.6 208.7,443.48 209.43,443.24 210.15,443.35 210.88,443.74 211.6,444.2 212.32,444.48 213.05,444.01 213.78,443.41 214.5,443.56 215.22,444.29 215.95,444.06 216.68,443.34 217.4,443.6 218.12,444.23 218.85,443.26 219.57,442.9 220.3,443.11 221.03,443.32 221.75,443.42 222.47,443.13 223.2,442.7 223.92,442.62 224.65,442.63 225.38,442.4 226.1,442.88 226.82,442.77 227.55,443.08 228.28,442.66 229,443.1 229.85,442.49 230.7,441.93 231.55,441.38 232.4,441.3 233.6,428 234.8,433.2 235.57,433.44 236.33,434.09 237.1,435 238.2,436.7 240,421.6 240.75,420.09 241.5,419.3 242.45,420.37 243.4,421.1 244.6,422.8 245.35,422.53 246.1,422.2 246.9,429.8 248.1,439 248.95,440.04 249.8,441.9 250.5,442.06 251.2,441.99 251.9,442.35 252.6,441.84 253.3,441.9 254.35,439.24 255.4,436.7 256.2,439 257.3,434.4 258.4,439.9 259.2,440.02 260,440.6 260.8,440.9 262.7,434.6 264.2,438.9 264.9,440.5 265.6,441.8 266.33,442.23 267.05,442.47 267.77,443.1 268.5,443.3 269.9,440.9 270.65,442.58 271.4,444.2 272.2,443.48 273,442.31 273.8,441.8 274.55,443.56 275.3,445.2 276.25,443.94 277.2,443.3 278.15,444.94 279.1,447.1 279.83,447.52 280.55,448.5 281.27,448.53 282,448.6 283.4,444.7 284.9,449.1 286.3,445.2 287.8,449.5 288.56,449.6 289.32,449.65 290.08,450.1 290.84,450.32 291.6,450 292.38,450.27 293.16,449.74 293.94,449.76 294.72,449.5 295.5,449.5 296.25,447.96 297,446.6 298.4,450 299.18,449.94 299.96,450.32 300.74,449.94 301.52,450.43 302.3,451 303.7,448.6 304.4,450.18 305.1,451.5 305.88,451.32 306.66,451.87 307.44,451.4 308.22,451.79 309,452 309.78,452.3 310.56,452.04 311.34,452.32 312.12,453.48 312.9,452.9 313.67,452.16 314.43,451.62 315.2,451.3 315.94,451.22 316.69,451.51 317.43,451.59 318.17,452 318.91,452.04 319.66,451.78 320.4,452 321.27,451.29 322.13,450.37 323,450.2 323.73,449.97 324.47,450.44 325.2,451.12 325.93,451.17 326.67,451.61 327.4,451.6 328.25,450.59 329.1,449 329.95,450.45 330.8,452 331.54,452.54 332.29,451.64 333.03,451.51 333.77,451.47 334.51,451.85 335.26,451.36 336,451.3 336.7,450.79 337.4,450.87 338.1,450.81 338.8,450.15 339.5,449.9 340.4,407.3 340.9,357.4 341.4,370 341.6,415.8 342.2,447.7 343,420 343.6,449 346.5,431.6 347.3,449.9 348.5,406.5 349.1,406.5 350,449.8 350.85,449.77 351.7,449.9" fill="none" stroke="#2208ff" stroke-width="1.8" stroke-linejoin="round"/>
<path d="M45.3 267.65V478.82M45.3 475.02H351.4" stroke="#2a2a2a" stroke-width="1.3" fill="none"/>
<path d="M40.3 461.2H45.3M40.3 433.55H45.3M40.3 405.9H45.3M40.3 378.25H45.3M40.3 350.6H45.3M40.3 322.95H45.3M40.3 295.3H45.3M40.3 267.65H45.3M58.05 475.02v3.8M70.81 475.02v3.8M83.56 475.02v3.8M96.32 475.02v3.8M109.07 475.02v3.8M121.82 475.02v3.8M134.58 475.02v3.8M147.33 475.02v3.8M160.09 475.02v3.8M172.84 475.02v3.8M185.6 475.02v3.8M198.35 475.02v3.8M211.1 475.02v3.8M223.86 475.02v3.8M236.61 475.02v3.8M249.37 475.02v3.8M262.12 475.02v3.8M274.87 475.02v3.8M287.63 475.02v3.8M300.38 475.02v3.8M313.14 475.02v3.8M325.89 475.02v3.8M338.65 475.02v3.8M351.4 475.02v3.8" stroke="#2a2a2a" stroke-width="1.2" fill="none"/>
<text transform="translate(37.8,464.1) scale(1.17,1)" text-anchor="end" class="t">0</text>
<text transform="translate(37.8,436.45) scale(1.17,1)" text-anchor="end" class="t">200</text>
<text transform="translate(37.8,408.8) scale(1.17,1)" text-anchor="end" class="t">400</text>
<text transform="translate(37.8,381.15) scale(1.17,1)" text-anchor="end" class="t">600</text>
<text transform="translate(37.8,353.5) scale(1.17,1)" text-anchor="end" class="t">800</text>
<text transform="translate(37.8,325.85) scale(1.17,1)" text-anchor="end" class="t">1000</text>
<text transform="translate(37.8,298.2) scale(1.17,1)" text-anchor="end" class="t">1200</text>
<text transform="translate(37.8,270.55) scale(1.17,1)" text-anchor="end" class="t">1400</text>
<text transform="translate(49.23,481.5) scale(1.240,1) rotate(-90)" text-anchor="end" class="t" style="font-size:8.8px">09:00</text>
<text transform="translate(61.98,481.5) scale(1.240,1) rotate(-90)" text-anchor="end" class="t" style="font-size:8.8px">10:00</text>
<text transform="translate(74.74,481.5) scale(1.240,1) rotate(-90)" text-anchor="end" class="t" style="font-size:8.8px">11:00</text>
<text transform="translate(87.49,481.5) scale(1.240,1) rotate(-90)" text-anchor="end" class="t" style="font-size:8.8px">12:00</text>
<text transform="translate(100.25,481.5) scale(1.240,1) rotate(-90)" text-anchor="end" class="t" style="font-size:8.8px">13:00</text>
<text transform="translate(113,481.5) scale(1.240,1) rotate(-90)" text-anchor="end" class="t" style="font-size:8.8px">14:00</text>
<text transform="translate(125.75,481.5) scale(1.240,1) rotate(-90)" text-anchor="end" class="t" style="font-size:8.8px">15:00</text>
<text transform="translate(138.51,481.5) scale(1.240,1) rotate(-90)" text-anchor="end" class="t" style="font-size:8.8px">16:00</text>
<text transform="translate(151.26,481.5) scale(1.240,1) rotate(-90)" text-anchor="end" class="t" style="font-size:8.8px">17:00</text>
<text transform="translate(164.02,481.5) scale(1.240,1) rotate(-90)" text-anchor="end" class="t" style="font-size:8.8px">18:00</text>
<text transform="translate(176.77,481.5) scale(1.240,1) rotate(-90)" text-anchor="end" class="t" style="font-size:8.8px">19:00</text>
<text transform="translate(189.52,481.5) scale(1.240,1) rotate(-90)" text-anchor="end" class="t" style="font-size:8.8px">20:00</text>
<text transform="translate(202.28,481.5) scale(1.240,1) rotate(-90)" text-anchor="end" class="t" style="font-size:8.8px">21:00</text>
<text transform="translate(215.03,481.5) scale(1.240,1) rotate(-90)" text-anchor="end" class="t" style="font-size:8.8px">22:00</text>
<text transform="translate(227.79,481.5) scale(1.240,1) rotate(-90)" text-anchor="end" class="t" style="font-size:8.8px">23:00</text>
<text transform="translate(240.54,481.5) scale(1.240,1) rotate(-90)" text-anchor="end" class="t" style="font-size:8.8px">00:00</text>
<text transform="translate(253.3,481.5) scale(1.240,1) rotate(-90)" text-anchor="end" class="t" style="font-size:8.8px">01:00</text>
<text transform="translate(266.05,481.5) scale(1.240,1) rotate(-90)" text-anchor="end" class="t" style="font-size:8.8px">02:00</text>
<text transform="translate(278.8,481.5) scale(1.240,1) rotate(-90)" text-anchor="end" class="t" style="font-size:8.8px">03:00</text>
<text transform="translate(291.56,481.5) scale(1.240,1) rotate(-90)" text-anchor="end" class="t" style="font-size:8.8px">04:00</text>
<text transform="translate(304.31,481.5) scale(1.240,1) rotate(-90)" text-anchor="end" class="t" style="font-size:8.8px">05:00</text>
<text transform="translate(317.07,481.5) scale(1.240,1) rotate(-90)" text-anchor="end" class="t" style="font-size:8.8px">06:00</text>
<text transform="translate(329.82,481.5) scale(1.240,1) rotate(-90)" text-anchor="end" class="t" style="font-size:8.8px">07:00</text>
<text transform="translate(342.57,481.5) scale(1.240,1) rotate(-90)" text-anchor="end" class="t" style="font-size:8.8px">08:00</text>
<text transform="translate(355.33,481.5) scale(1.240,1) rotate(-90)" text-anchor="end" class="t" style="font-size:8.8px">09:00</text>
<text transform="translate(190,516) scale(1.15,1)" text-anchor="middle" class="tt">Time</text>
<text transform="translate(59,276.6) scale(1.2,1)" class="lab">(c)</text>
<path d="M232.4 275.5H257" stroke="#cf1c20" stroke-width="1.3"/>
<path d="M232.4 286.5H257" stroke="#2208ff" stroke-width="1.6"/>
<text x="266.8" y="277.9" class="leg">L3</text>
<text x="266.8" y="289.7" class="leg">K3</text>
<g><text transform="translate(11.8,370.7) scale(1.1,1) rotate(-90)" text-anchor="middle" class="yt"><tspan font-size="9.3">PM</tspan><tspan font-size="6.3" dy="2.4">2.5</tspan><tspan dy="-2.4">(μg/m</tspan><tspan font-size="5.6" dy="-3.4">3</tspan><tspan dy="3.4">)</tspan></text></g>
<polyline points="456.6,459.5 457.7,459.5 458.1,411 458.8,440.5 459.3,454.1 460.1,443.2 460.7,450 461.5,447.3 461.4,452.3 462.4,448.9 463,420 463.4,381.1 463.7,385 464.1,440 464.7,455.7 465.4,458.4 466.1,446.9 466.8,446.2 467.4,455.7 468.4,458.4 469.5,444.9 470.1,445.2 470.8,458.4 471.8,457 472.5,443.2 473.5,443.2 473.9,455.7 474.5,455.7 475.5,457.7 476.6,459.1 477.6,456.4 478.6,457 479.3,458.4 480.3,450.9 481.3,455.7 482.3,457 483.3,451.6 484,457 485,457.7 486,457 487,458.4 488.4,458.7 489.25,458.45 490.1,458.3 491.03,458 491.97,457.45 492.9,457.1 493.7,455.77 494.5,454.38 495.3,453.3 496.25,453.01 497.2,452.8 497.95,454.22 498.7,455.2 499.65,456.23 500.6,457.1 501.38,457.41 502.16,457.35 502.94,457.48 503.72,457.54 504.5,457.6 505.26,457.27 506.02,457.77 506.78,457.7 507.54,457.7 508.3,457.6 509.3,456.31 510.3,455.7 511.2,458.1 511.93,457.28 512.65,456.97 513.38,456.58 514.1,456.2 514.83,456.26 515.55,456.19 516.27,456.3 517,456.2 518.2,453.8 519.2,293.3 519.9,445.1 520.6,445.1 521.6,290.6 522.8,439.3 523.8,447 524.7,448.9 526.2,456.2 527,456.87 527.8,457.86 528.6,458.6 529.33,458.9 530.05,458.92 530.77,459.62 531.5,459.5 532.23,459.26 532.95,459.04 533.67,458.33 534.4,458.1 535.35,457.7 536.3,457.6 537.25,458.73 538.2,460 538.93,459.63 539.65,459.43 540.38,459 541.1,458.6 541.85,457.76 542.6,457.1 544,458.6 544.95,458.86 545.9,459.5 546.65,458.65 547.4,458 548.6,456 549.1,450.7 549.6,456 550.3,458.8 551,459.14 551.7,458.84 552.4,459.15 553.1,459.2 553.92,459.29 554.74,458.9 555.56,459.21 556.38,459.46 557.2,459.2 558.4,457.2 559.2,457.4 560,458.4 561.2,454.7 562,458.4 562.83,458.2 563.67,458.11 564.5,458 565.3,458.24 566.1,458.9 566.9,459.2 567.7,459.59 568.5,459.71 569.3,460.4 570.12,460.49 570.94,460.37 571.76,460.35 572.58,460.37 573.4,460 574.17,459.41 574.93,458.69 575.7,458 576.55,458.54 577.4,459.6 578.22,459.8 579.04,459.64 579.86,459.75 580.68,459.67 581.5,460 582.32,459.65 583.14,459.57 583.96,459.78 584.78,458.95 585.6,459.2 586.4,458.11 587.2,457.6 588,458.65 588.8,459.6 589.5,459.89 590.2,459.72 590.9,459.22 591.6,459.1 592.3,459.67 593,459.45 593.7,459.6 594.5,459.22 595.3,459.48 596.1,459.34 596.9,458.99 597.7,458.8 598.47,458.85 599.23,458.89 600,458.8 600.8,459.22 601.6,459.12 602.4,459.2 603.2,459.2 604.03,458.91 604.87,458.09 605.7,458 606.5,458.52 607.3,458.72 608.1,458.8 608.92,459.38 609.75,459.36 610.58,460.1 611.4,460.7 612.2,460.87 613,460.34 613.8,460.66 614.6,460.9 615.4,460.7 616.22,460.52 617.03,461.19 617.85,461.06 618.67,461 619.48,461.18 620.3,461.2 621.1,461.39 621.9,461.34 622.7,461.61 623.5,461.31 624.3,461.5 625.12,461.44 625.94,461.75 626.76,461.57 627.58,461.4 628.4,461.6 629.2,461.77 630,461.85 630.8,461.45 631.6,461.24 632.4,461.5 633.22,461.49 634.04,461.51 634.86,461.5 635.68,461.86 636.5,461.6 637.32,461.23 638.14,461.53 638.96,460.87 639.78,460.8 640.6,460.8 641.4,460.77 642.2,460.71 643,460.49 643.8,460.23 644.6,460 645.42,459.79 646.24,459.55 647.06,459.4 647.88,459 648.7,458.8 649.5,458.78 650.3,458.75 651.1,458.56 651.9,458.63 652.7,458.4 653.47,458.38 654.23,458.54 655,458 655.85,456.76 656.7,455.4 657.43,455.18 658.17,455.06 658.9,455 659.75,455.65 660.6,456.3 661.9,451.9 662.8,449.93 663.7,447.6 665,450.2 665.73,450.57 666.47,451.14 667.2,451.5 668.05,452.07 668.9,451.9 669.75,452.04 670.6,453.2 671.9,449.3 672.8,446.7 674.1,448.9 674.95,449.33 675.8,450.2 676.7,450.65 677.6,451 678.47,451.95 679.33,452.78 680.2,453.6 681.05,453.96 681.9,454.63 682.75,455.01 683.6,455.4 684.33,455.58 685.07,456.45 685.8,456.32 686.53,456.42 687.27,456.8 688,457.1 688.72,457.27 689.43,457.52 690.15,457.2 690.87,457.87 691.58,458.39 692.3,458.4 693.03,458.35 693.77,458.75 694.5,459.14 695.23,459.3 695.97,459.61 696.7,459.5 697.42,459.19 698.13,459.5 698.85,459.53 699.57,459.76 700.28,459.89 701,459.7 701.72,459.16 702.43,459.92 703.15,459.41 703.87,459.84 704.58,459.4 705.3,459.7 706,459.66 706.7,459.78 707.4,459.43 708.1,459.42 708.8,459.3 710.1,456.3 711,455.81 711.9,455 713.3,455 714.1,296.4 715.1,393.2 715.5,393 716,288.7 717.4,433.7 717.8,454.9 718.5,350.5 719.3,439.5 720.3,460.7 721.02,460.98 721.75,461.18 722.48,461.76 723.2,461.7 723.93,461.91 724.65,461.64 725.38,462.25 726.1,461.47 726.83,461.88 727.55,461.65 728.27,461.73 729,461.7 729.77,461.98 730.54,462.03 731.31,462.26 732.09,461.97 732.86,462.11 733.63,462.68 734.4,462.7" fill="none" stroke="#2208ff" stroke-width="1.8" stroke-linejoin="round"/>
<polyline points="456.6,462.5 457.4,462.2 459.1,456.8 459.7,437.2 460.4,440.5 461.1,456.8 462.4,459.5 463.1,461.19 463.8,462.8 464.8,463.4 465.8,463.5 466.53,463.61 467.26,463.61 467.99,463.56 468.72,463.54 469.45,463.57 470.18,463.5 470.92,463.43 471.65,463.41 472.38,463.39 473.11,463.53 473.84,463.57 474.57,463.68 475.3,463.5 476.04,463.56 476.77,463.53 477.5,463.56 478.24,463.49 478.98,463.29 479.71,463.59 480.44,463.43 481.18,463.49 481.92,463.44 482.65,463.76 483.38,463.57 484.12,463.49 484.86,463.33 485.59,463.53 486.32,463.34 487.06,463.55 487.8,463.27 488.53,463.41 489.26,463.51 490,463.4 490.73,463.31 491.45,463.4 492.18,463.4 492.9,463.47 493.62,463.31 494.35,463.42 495.07,463.56 495.8,463.18 496.52,463.23 497.25,463.36 497.98,463.23 498.7,463.15 499.43,463.43 500.15,463.37 500.88,463.38 501.6,463.37 502.32,463.32 503.05,463.15 503.77,462.98 504.5,463.2 505.22,463.23 505.94,463.02 506.66,463.1 507.38,463.09 508.1,462.88 508.82,462.94 509.54,463.11 510.26,462.97 510.98,462.68 511.7,462.79 512.42,462.77 513.14,462.79 513.86,462.77 514.58,462.65 515.3,462.59 516.02,462.66 516.74,462.38 517.46,462.61 518.18,462.49 518.9,462.4 519.9,461.51 520.9,460.7 521.62,460.8 522.35,461.04 523.07,461.01 523.8,461.3 524.6,461.22 525.4,461.65 526.2,461.91 527,461.89 527.8,462.07 528.6,462.2 529.34,462.21 530.08,462.11 530.82,462.25 531.55,462.29 532.29,462.21 533.03,462.3 533.77,462.1 534.51,462.23 535.25,462.13 535.98,462.16 536.72,462.23 537.46,462.22 538.2,462.2 539,462.21 539.8,462.11 540.6,461.83 541.4,462.01 542.2,461.63 543,461.7 543.7,461.7 544.4,461.75 545.1,461.72 545.8,461.79 546.5,461.75 547.2,461.66 547.9,461.85 548.6,461.77 549.3,461.69 550,461.8 550.7,461.8 551.5,462.1 552.3,462.44 553.1,462.64 553.9,463.02 554.7,463.3 555.42,463.14 556.14,463.18 556.87,462.83 557.59,462.85 558.31,462.57 559.03,462.55 559.76,462.53 560.48,462.11 561.2,462 562.02,462.23 562.83,462.34 563.65,462.58 564.47,462.81 565.28,463.09 566.1,463.3 566.83,463.34 567.56,463.29 568.29,463.1 569.02,463.12 569.75,462.9 570.48,463.06 571.21,462.93 571.94,462.79 572.67,462.78 573.4,462.8 574.2,462.76 575,462.61 575.8,462.57 576.6,462.35 577.4,462.3 578.15,462.32 578.89,462.29 579.64,462.17 580.38,462.32 581.13,462.33 581.87,462.28 582.62,462.44 583.36,462.59 584.11,462.53 584.85,462.4 585.6,462.4 586.34,462.28 587.07,462.38 587.81,462.34 588.55,462.42 589.28,462.52 590.02,462.39 590.75,462.26 591.49,462.54 592.23,462.41 592.96,462.54 593.7,462.4 594.44,462.35 595.17,462.73 595.91,462.38 596.65,462.56 597.38,462.66 598.12,462.36 598.85,462.57 599.59,462.53 600.33,462.9 601.06,462.83 601.8,462.8 602.58,462.79 603.37,462.79 604.15,462.87 604.93,463.15 605.72,463.13 606.5,463.3 607.3,463.24 608.1,463.05 608.9,462.83 609.7,463.08 610.5,462.8 611.35,462.05 612.2,461.2 613,461.53 613.8,461.97 614.6,462.4 615.42,462.53 616.24,462.48 617.06,462.27 617.88,462.55 618.7,462.4 619.5,462.39 620.3,462.57 621.1,462.45 621.9,462.56 622.7,462.77 623.5,462.62 624.3,462.8 625.01,462.85 625.72,462.92 626.44,462.85 627.15,463.1 627.86,463.06 628.58,463.01 629.29,463.17 630,463.1 630.82,463.02 631.64,462.79 632.46,462.43 633.28,462.3 634.1,462 634.9,461.74 635.7,461.29 636.5,461.06 637.3,460.8 638.12,461.11 638.95,460.92 639.77,461.15 640.6,461.2 641.4,461.37 642.2,461.16 643,461.2 643.8,461.12 644.6,461.2 645.42,461.33 646.24,461.24 647.06,461.49 647.88,461.44 648.7,461.6 649.5,461.71 650.3,461.59 651.1,461.73 651.9,462.01 652.7,462 653.47,462.16 654.23,461.89 655,462.3 655.72,462.32 656.43,461.95 657.15,461.99 657.87,461.87 658.58,461.62 659.3,461.5 660.06,461.24 660.82,460.85 661.59,460.87 662.35,460.79 663.11,460.25 663.88,460.26 664.64,460 665.4,459.7 666.1,459.76 666.8,459.51 667.5,459.57 668.2,459.57 668.9,459.67 669.6,459.36 670.3,459.37 671,459.3 671.7,459.43 672.4,459.3 673.12,459.2 673.83,459.41 674.55,459.37 675.27,459.53 675.98,459.71 676.7,459.7 677.42,459.86 678.13,460.2 678.85,460.3 679.57,460.56 680.28,460.77 681,461 681.76,461.09 682.51,461.41 683.27,461.62 684.03,461.66 684.79,462 685.54,462.12 686.3,462.3 687.04,462.38 687.79,462.57 688.53,462.77 689.27,462.89 690.01,463.09 690.76,463.1 691.5,463.2 692.27,463.24 693.03,463.09 693.8,463.21 694.57,463.35 695.33,463.2 696.1,463.24 696.87,463.54 697.63,463.37 698.4,463.4 699.12,463.27 699.85,463.15 700.58,463.26 701.3,463.56 702.02,463.31 702.75,463.36 703.48,463.35 704.2,463.22 704.92,463.28 705.65,463.24 706.38,463.18 707.1,463.2 707.82,463.26 708.54,463.04 709.25,463.01 709.97,462.99 710.69,463.14 711.41,462.93 712.13,463.13 712.85,462.77 713.56,462.77 714.28,462.57 715,462.8 715.72,462.68 716.44,462.76 717.16,462.79 717.88,462.6 718.6,462.62 719.32,462.79 720.04,462.57 720.76,462.61 721.48,462.64 722.2,462.45 722.92,462.65 723.64,462.48 724.36,462.55 725.08,462.42 725.8,462.45 726.52,462.52 727.24,462.39 727.96,462.16 728.68,462.29 729.4,462.3 730.2,446.6 730.7,461 731.2,402.5 731.7,440 732.1,458 732.5,437 732.9,458 733.3,440 733.7,420 734.1,383.3 734.4,462.5" fill="none" stroke="#cf1c20" stroke-width="1.6" stroke-linejoin="round"/>
<path d="M455.6 267.78V479.44M455.6 475.64H734.5" stroke="#2a2a2a" stroke-width="1.3" fill="none"/>
<path d="M450.6 464.7H455.6M450.6 431.88H455.6M450.6 399.06H455.6M450.6 366.24H455.6M450.6 333.42H455.6M450.6 300.6H455.6M450.6 267.78H455.6M467.22 475.64v3.8M478.84 475.64v3.8M490.46 475.64v3.8M502.08 475.64v3.8M513.7 475.64v3.8M525.33 475.64v3.8M536.95 475.64v3.8M548.57 475.64v3.8M560.19 475.64v3.8M571.81 475.64v3.8M583.43 475.64v3.8M595.05 475.64v3.8M606.67 475.64v3.8M618.29 475.64v3.8M629.91 475.64v3.8M641.53 475.64v3.8M653.15 475.64v3.8M664.77 475.64v3.8M676.4 475.64v3.8M688.02 475.64v3.8M699.64 475.64v3.8M711.26 475.64v3.8M722.88 475.64v3.8M734.5 475.64v3.8" stroke="#2a2a2a" stroke-width="1.2" fill="none"/>
<text transform="translate(448.6,467.6) scale(1.07,1)" text-anchor="end" class="t">0</text>
<text transform="translate(448.6,434.78) scale(1.07,1)" text-anchor="end" class="t">300</text>
<text transform="translate(448.6,401.96) scale(1.07,1)" text-anchor="end" class="t">600</text>
<text transform="translate(448.6,369.14) scale(1.07,1)" text-anchor="end" class="t">900</text>
<text transform="translate(448.6,336.32) scale(1.07,1)" text-anchor="end" class="t">1200</text>
<text transform="translate(448.6,303.5) scale(1.07,1)" text-anchor="end" class="t">1500</text>
<text transform="translate(448.6,270.68) scale(1.07,1)" text-anchor="end" class="t">1800</text>
<text transform="translate(459.07,482) scale(1.134,1) rotate(-90)" text-anchor="end" class="t" style="font-size:8.5px">09:00</text>
<text transform="translate(470.69,482) scale(1.134,1) rotate(-90)" text-anchor="end" class="t" style="font-size:8.5px">10:00</text>
<text transform="translate(482.31,482) scale(1.134,1) rotate(-90)" text-anchor="end" class="t" style="font-size:8.5px">11:00</text>
<text transform="translate(493.93,482) scale(1.134,1) rotate(-90)" text-anchor="end" class="t" style="font-size:8.5px">12:00</text>
<text transform="translate(505.55,482) scale(1.134,1) rotate(-90)" text-anchor="end" class="t" style="font-size:8.5px">13:00</text>
<text transform="translate(517.17,482) scale(1.134,1) rotate(-90)" text-anchor="end" class="t" style="font-size:8.5px">14:00</text>
<text transform="translate(528.8,482) scale(1.134,1) rotate(-90)" text-anchor="end" class="t" style="font-size:8.5px">15:00</text>
<text transform="translate(540.42,482) scale(1.134,1) rotate(-90)" text-anchor="end" class="t" style="font-size:8.5px">16:00</text>
<text transform="translate(552.04,482) scale(1.134,1) rotate(-90)" text-anchor="end" class="t" style="font-size:8.5px">17:00</text>
<text transform="translate(563.66,482) scale(1.134,1) rotate(-90)" text-anchor="end" class="t" style="font-size:8.5px">18:00</text>
<text transform="translate(575.28,482) scale(1.134,1) rotate(-90)" text-anchor="end" class="t" style="font-size:8.5px">19:00</text>
<text transform="translate(586.9,482) scale(1.134,1) rotate(-90)" text-anchor="end" class="t" style="font-size:8.5px">20:00</text>
<text transform="translate(598.52,482) scale(1.134,1) rotate(-90)" text-anchor="end" class="t" style="font-size:8.5px">21:00</text>
<text transform="translate(610.14,482) scale(1.134,1) rotate(-90)" text-anchor="end" class="t" style="font-size:8.5px">22:00</text>
<text transform="translate(621.76,482) scale(1.134,1) rotate(-90)" text-anchor="end" class="t" style="font-size:8.5px">23:00</text>
<text transform="translate(633.38,482) scale(1.134,1) rotate(-90)" text-anchor="end" class="t" style="font-size:8.5px">00:00</text>
<text transform="translate(645,482) scale(1.134,1) rotate(-90)" text-anchor="end" class="t" style="font-size:8.5px">01:00</text>
<text transform="translate(656.62,482) scale(1.134,1) rotate(-90)" text-anchor="end" class="t" style="font-size:8.5px">02:00</text>
<text transform="translate(668.25,482) scale(1.134,1) rotate(-90)" text-anchor="end" class="t" style="font-size:8.5px">03:00</text>
<text transform="translate(679.87,482) scale(1.134,1) rotate(-90)" text-anchor="end" class="t" style="font-size:8.5px">04:00</text>
<text transform="translate(691.49,482) scale(1.134,1) rotate(-90)" text-anchor="end" class="t" style="font-size:8.5px">05:00</text>
<text transform="translate(703.11,482) scale(1.134,1) rotate(-90)" text-anchor="end" class="t" style="font-size:8.5px">06:00</text>
<text transform="translate(714.73,482) scale(1.134,1) rotate(-90)" text-anchor="end" class="t" style="font-size:8.5px">07:00</text>
<text transform="translate(726.35,482) scale(1.134,1) rotate(-90)" text-anchor="end" class="t" style="font-size:8.5px">08:00</text>
<text transform="translate(737.97,482) scale(1.134,1) rotate(-90)" text-anchor="end" class="t" style="font-size:8.5px">09:00</text>
<text transform="translate(594.2,516.8) scale(1.07,1)" text-anchor="middle" class="tt">Time</text>
<text transform="translate(466,277) scale(1.2,1)" class="lab">(d)</text>
<path d="M610.8 270.7H632.4" stroke="#cf1c20" stroke-width="1.3"/>
<path d="M610.8 281.5H632.4" stroke="#2208ff" stroke-width="1.6"/>
<text x="639.8" y="272.0" class="leg">L4</text>
<text x="639.8" y="284.0" class="leg">K4</text>
<g><text transform="translate(423.0,365.9) scale(1.03,1) rotate(-90)" text-anchor="middle" class="yt"><tspan font-size="9.3">PM</tspan><tspan font-size="6.3" dy="2.4">2.5</tspan><tspan dy="-2.4">(μg/m</tspan><tspan font-size="5.6" dy="-3.4">3</tspan><tspan dy="3.4">)</tspan></text></g>
</svg>
</body></html>
